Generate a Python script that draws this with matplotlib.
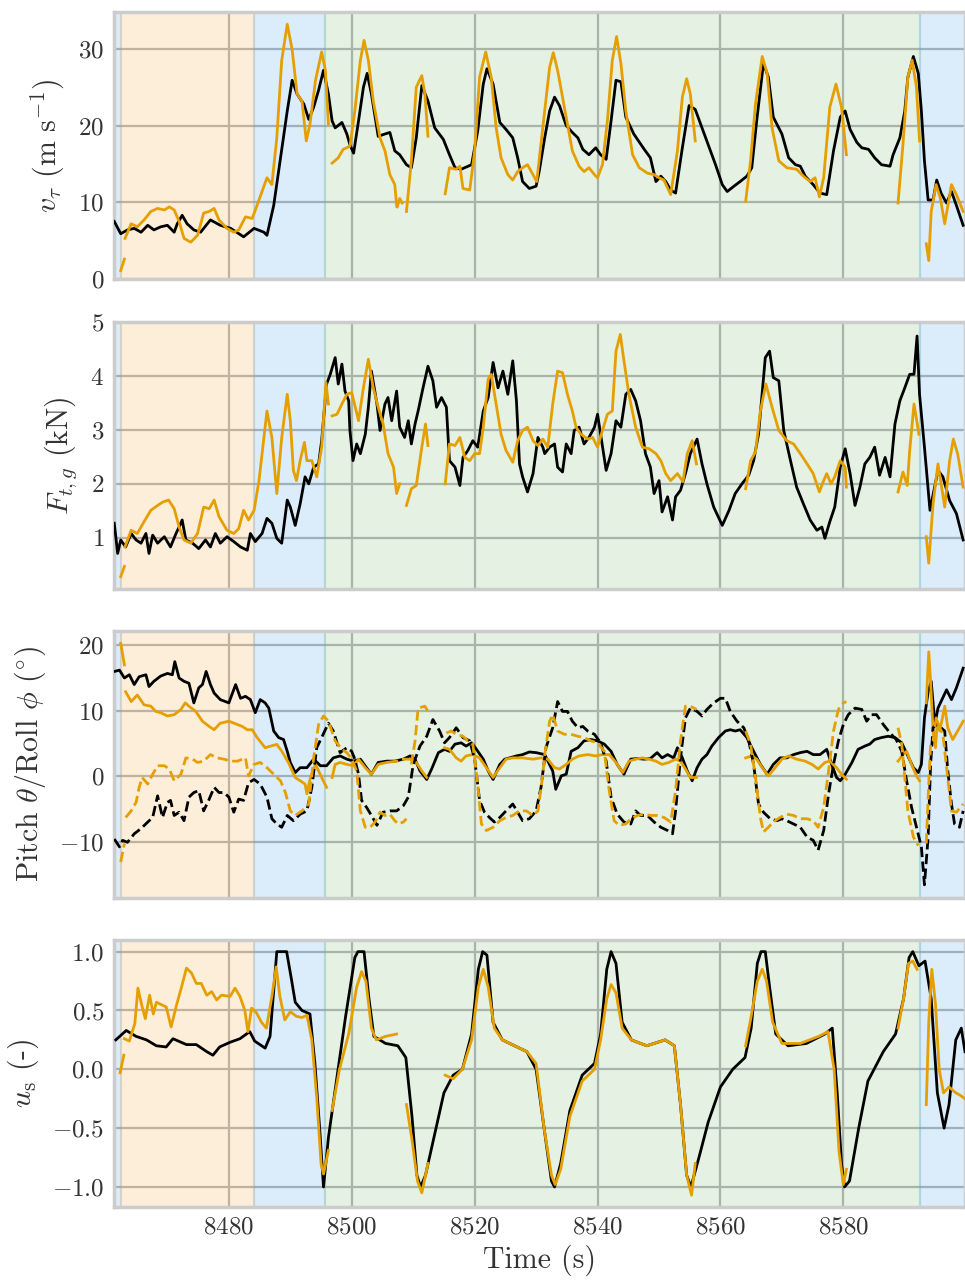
import numpy as np
import matplotlib
matplotlib.use("Agg")
import matplotlib.pyplot as plt

plt.rcParams['font.family'] = 'serif'
plt.rcParams['font.serif'] = ['cmr10', 'DejaVu Serif']
plt.rcParams['mathtext.fontset'] = 'cm'
plt.rcParams['axes.formatter.use_mathtext'] = True
plt.rcParams['axes.unicode_minus'] = True

N = None
# ---------------- data (time s, value) ----------------
# Panel 1: v_tau (m/s)
v_meas = [(8461.35, 7.5), (8462.4, 5.9), (8463.5, 6.4), (8464.6, 6.6), (8465.7, 6.1), (8466.8, 7.0), (8467.8, 6.4),
          (8468.9, 6.8), (8470.0, 7.0), (8471.1, 6.1), (8471.6, 7.2), (8472.4, 8.3), (8473.2, 7.2), (8474.3, 6.4),
          (8475.4, 6.1), (8477.0, 7.7), (8478.6, 7.0), (8480.3, 6.6), (8482.4, 5.5), (8484.1, 6.6), (8485.7, 6.1),
          (8486.2, 5.7), (8487.3, 9.6), (8488.4, 15.8), (8489.5, 21.9), (8490.3, 25.9), (8491.1, 24.1), (8492.2, 22.8),
          (8493.0, 20.8), (8493.8, 22.4), (8494.6, 24.6), (8495.4, 27.2), (8496.2, 24.1), (8496.8, 20.6), (8497.3, 19.7),
          (8498.4, 20.4), (8499.2, 18.9), (8499.7, 17.5), (8500.3, 16.4), (8501.1, 20.6), (8501.9, 25.0), (8502.5, 26.8),
          (8503.2, 24.1), (8504.3, 18.6), (8505.4, 18.9), (8506.2, 19.1), (8507.0, 16.7), (8507.8, 16.2), (8508.9, 14.9),
          (8509.7, 14.5), (8510.5, 18.4), (8511.4, 25.2), (8512.4, 23.2), (8513.5, 19.7), (8514.9, 18.2), (8515.9, 16.2),
          (8516.8, 14.5), (8517.8, 14.3), (8519.5, 14.9), (8520.5, 19.3), (8521.4, 25.4), (8522.0, 27.4), (8523.0, 25.4),
          (8524.1, 20.4), (8525.1, 19.5), (8526.2, 18.4), (8527.0, 15.8), (8527.8, 12.7), (8528.9, 11.8), (8530.0, 12.1),
          (8530.5, 14.0), (8531.4, 18.4), (8532.2, 21.9), (8533.0, 23.7), (8533.8, 22.6), (8534.9, 20.0), (8535.9, 19.1),
          (8536.8, 18.4), (8537.6, 16.9), (8538.6, 16.2), (8539.7, 17.1), (8540.5, 16.2), (8541.4, 15.6), (8542.2, 20.6),
          (8543.0, 25.9), (8543.8, 25.7), (8544.6, 21.1), (8545.9, 18.9), (8547.6, 16.9), (8548.6, 15.8), (8549.5, 12.7),
          (8550.3, 13.4), (8551.1, 12.7), (8551.9, 11.6), (8552.7, 11.2), (8553.8, 17.1), (8554.9, 22.6), (8555.9, 22.1),
          (8557.0, 19.7), (8558.1, 17.3), (8559.2, 14.9), (8560.3, 12.3), (8561.1, 11.4), (8562.2, 12.1), (8563.2, 12.7),
          (8564.3, 13.4), (8565.1, 14.5), (8565.9, 20.6), (8567.0, 28.1), (8567.8, 26.3), (8568.6, 21.1), (8570.0, 18.9),
          (8571.1, 15.8), (8572.2, 14.9), (8573.0, 14.7), (8573.8, 13.4), (8575.1, 12.3), (8576.2, 11.2), (8577.3, 11.0),
          (8578.4, 16.7), (8579.5, 21.1), (8580.3, 21.9), (8581.1, 19.5), (8582.2, 17.8), (8583.0, 17.1), (8584.1, 16.9),
          (8585.1, 15.8), (8586.2, 14.9), (8587.6, 14.7), (8588.1, 16.2), (8589.2, 18.4), (8590.0, 21.9), (8590.5, 26.3),
          (8591.4, 29.0), (8592.2, 26.8), (8592.7, 21.9), (8593.2, 15.4), (8593.8, 10.3), (8594.6, 10.3), (8595.2, 12.9),
          (8595.9, 11.2), (8596.8, 9.9), (8597.6, 11.4), (8598.4, 9.6), (8599.5, 7.0)]
v_model = [(8462.4, 1.1), (8463.0, 2.6), N,
           (8463.1, 5.3), (8464.1, 7.2), (8465.1, 6.8), (8466.2, 7.7), (8467.3, 8.8), (8468.4, 9.2), (8469.5, 9.0),
           (8470.3, 9.4), (8471.1, 9.0), (8471.9, 7.5), (8472.7, 5.3), (8473.8, 4.8), (8474.9, 5.7), (8475.9, 8.6),
           (8476.8, 8.8), (8477.6, 9.2), (8478.4, 7.7), (8479.7, 6.6), (8480.8, 6.1), (8481.6, 6.4), (8482.7, 8.1),
           (8483.8, 7.9), (8484.9, 10.3), (8486.2, 13.2), (8487.0, 12.3), (8487.8, 18.4), (8488.6, 28.5), (8489.5, 33.2),
           (8490.3, 29.9), (8491.1, 24.1), (8491.9, 23.2), (8492.6, 18.0), (8493.2, 20.2), (8494.1, 25.9), (8495.1, 29.6),
           (8495.7, 27.2), (8496.2, 20.2), N,
           (8496.8, 15.1), (8497.8, 15.8), (8498.6, 16.9), (8499.7, 17.3), (8500.5, 21.9), (8501.4, 28.5), (8502.0, 31.1),
           (8502.7, 28.5), (8503.5, 23.2), (8504.6, 18.4), (8505.4, 16.7), (8506.2, 13.6), (8507.0, 12.3), (8507.3, 9.6), N,
           (8507.4, 9.4), (8507.8, 10.5), (8508.2, 9.9), N,
           (8508.9, 8.8), (8509.7, 15.4), (8510.5, 25.0), (8511.4, 26.5), (8511.9, 24.1), (8512.4, 18.6), N,
           (8515.2, 11.1), (8515.9, 14.5), (8517.0, 14.3), (8517.6, 14.7), (8518.1, 11.8), (8519.2, 11.6), (8520.0, 16.7),
           (8520.8, 26.3), (8521.8, 29.6), (8522.7, 26.3), (8523.5, 19.7), (8524.3, 15.8), (8525.4, 13.6), (8526.2, 12.9),
           (8527.0, 14.0), (8527.8, 14.5), (8528.6, 14.9), (8529.5, 13.6), (8530.1, 12.7), (8531.4, 21.9), (8532.2, 27.6),
           (8532.8, 29.5), (8533.5, 27.2), (8534.3, 23.7), (8535.1, 20.2), (8535.9, 16.7), (8537.0, 14.7), (8537.8, 14.0),
           (8538.6, 14.5), (8539.5, 13.6), (8540.0, 13.2), (8540.8, 14.9), (8541.6, 20.6), (8542.4, 28.5), (8543.1, 31.6),
           (8543.8, 28.1), (8544.6, 21.9), (8545.7, 16.2), (8546.8, 14.5), (8548.1, 13.8), (8549.2, 13.6), (8550.0, 13.2),
           (8550.8, 12.9), (8551.9, 11.0), (8553.0, 16.7), (8553.8, 23.7), (8554.5, 26.1), (8555.1, 24.1), (8555.9, 18.0), N,
           (8564.1, 10.1), (8564.9, 15.4), (8565.7, 22.8), (8566.8, 29.0), (8567.6, 26.8), (8568.4, 19.7), (8569.5, 15.4),
           (8570.8, 14.5), (8572.4, 14.3), (8573.5, 13.4), (8574.6, 12.7), (8575.4, 13.2), (8576.1, 10.7), (8576.8, 13.2),
           (8577.8, 22.4), (8578.8, 25.4), (8579.7, 22.4), (8580.5, 16.2), N,
           (8588.9, 9.9), (8589.7, 17.5), (8590.5, 26.3), (8591.2, 28.5), (8591.9, 25.0), (8592.4, 18.0), N,
           (8593.5, 4.6), (8593.9, 2.4), (8594.3, 8.8), (8595.1, 12.3), (8595.8, 10.5), (8596.5, 7.2), (8597.6, 12.3),
           (8598.4, 11.0), (8599.5, 8.8)]

# Panel 2: F_t,g (kN)
F_meas = [(8461.35, 1.27), (8461.9, 0.71), (8462.4, 0.96), (8463.2, 0.83), (8464.1, 1.08), (8464.9, 0.96), (8465.7, 0.90),
          (8466.5, 1.08), (8467.0, 0.71), (8467.6, 1.05), (8468.4, 0.90), (8469.5, 1.02), (8470.5, 0.83), (8471.4, 1.08),
          (8471.9, 1.20), (8472.4, 1.33), (8473.0, 0.96), (8474.1, 0.90), (8475.1, 0.80), (8476.2, 0.96), (8477.0, 0.83),
          (8477.8, 1.08), (8478.6, 0.90), (8479.7, 1.02), (8480.8, 0.93), (8481.9, 0.83), (8483.0, 0.77), (8483.5, 1.08),
          (8484.3, 0.93), (8485.4, 1.08), (8486.2, 1.36), (8487.0, 1.27), (8487.8, 0.99), (8488.6, 0.90), (8489.5, 1.70),
          (8490.0, 1.57), (8490.8, 1.23), (8491.6, 1.63), (8492.4, 2.13), (8493.0, 2.00), (8493.8, 2.31), (8494.6, 2.37),
          (8495.1, 2.80), (8495.9, 3.85), (8496.5, 4.03), (8497.3, 4.34), (8497.8, 3.85), (8498.4, 4.22), (8498.9, 3.72),
          (8499.5, 3.54), (8499.7, 2.99), (8500.2, 2.43), (8500.8, 2.74), (8501.4, 2.56), (8502.2, 2.92), (8502.7, 3.42),
          (8503.2, 4.09), (8504.1, 3.48), (8504.6, 2.99), (8505.4, 3.48), (8505.9, 3.60), (8506.5, 3.17), (8507.3, 3.72),
          (8507.8, 3.05), (8508.6, 2.86), (8509.2, 3.17), (8509.7, 2.74), (8510.3, 3.11), (8510.8, 3.35), (8511.6, 3.78),
          (8512.4, 4.18), (8513.2, 3.91), (8513.8, 3.42), (8514.6, 3.60), (8515.4, 3.42), (8515.9, 2.43), (8516.8, 2.31),
          (8517.6, 1.97), (8518.1, 2.49), (8518.9, 2.62), (8519.7, 2.80), (8520.5, 2.68), (8521.4, 3.35), (8522.2, 3.60),
          (8523.0, 4.25), (8523.8, 3.78), (8524.6, 4.09), (8525.4, 3.66), (8526.2, 4.28), (8526.8, 3.54), (8527.3, 2.37),
          (8527.8, 2.13), (8528.6, 1.85), (8529.5, 2.19), (8530.3, 2.86), (8531.1, 2.68), (8531.4, 2.56), (8532.2, 2.68),
          (8533.0, 2.74), (8533.5, 2.31), (8534.3, 2.22), (8534.9, 2.74), (8535.7, 2.56), (8536.2, 2.99), (8537.0, 3.05),
          (8537.8, 2.74), (8538.6, 2.86), (8539.5, 3.05), (8540.0, 3.29), (8540.5, 2.92), (8541.4, 2.25), (8542.2, 2.56),
          (8543.0, 3.17), (8543.8, 3.05), (8544.6, 3.66), (8545.4, 3.75), (8546.2, 3.54), (8547.0, 3.17), (8547.8, 2.56),
          (8548.6, 2.31), (8549.2, 1.82), (8550.0, 2.06), (8550.5, 1.48), (8551.4, 1.76), (8552.2, 1.33), (8552.7, 1.76),
          (8553.5, 1.88), (8554.3, 2.19), (8555.1, 2.56), (8556.2, 2.83), (8557.0, 2.37), (8557.8, 2.00), (8558.9, 1.57),
          (8560.3, 1.23), (8561.4, 1.51), (8562.4, 1.82), (8563.5, 2.00), (8564.6, 2.16), (8565.4, 2.43), (8566.2, 2.92),
          (8567.3, 4.34), (8568.0, 4.46), (8568.6, 3.97), (8569.5, 3.91), (8570.3, 2.99), (8571.4, 2.43), (8572.4, 1.94),
          (8573.5, 1.63), (8574.6, 1.33), (8575.7, 1.14), (8576.5, 1.20), (8577.0, 0.99), (8577.8, 1.30), (8578.6, 1.57),
          (8579.5, 2.31), (8580.3, 2.65), (8581.1, 2.19), (8581.9, 1.60), (8582.7, 1.94), (8583.5, 2.37), (8584.3, 2.49),
          (8585.1, 2.68), (8585.9, 2.16), (8586.8, 2.49), (8587.6, 2.13), (8588.4, 3.11), (8589.2, 3.54), (8590.0, 3.78),
          (8590.8, 4.03), (8591.5, 4.03), (8592.0, 4.74), (8592.4, 3.66), (8593.2, 2.68), (8594.1, 1.51), (8595.4, 2.25),
          (8596.2, 2.13), (8597.3, 1.69), (8598.4, 1.45), (8599.5, 0.96)]
F_model = [(8462.4, 0.28), (8463.0, 0.47), N,
           (8463.1, 0.83), (8464.1, 1.14), (8465.1, 1.08), (8466.2, 1.30), (8467.3, 1.51), (8468.4, 1.60), (8469.2, 1.66),
           (8470.2, 1.70), (8471.1, 1.54), (8471.9, 1.20), (8472.7, 0.96), (8473.8, 0.90), (8474.9, 1.08), (8475.9, 1.57),
           (8476.8, 1.54), (8477.6, 1.70), (8478.4, 1.39), (8479.7, 1.14), (8480.8, 1.08), (8481.6, 1.17), (8482.4, 1.51),
           (8483.2, 1.33), (8484.1, 1.51), (8484.9, 2.06), (8485.4, 2.56), (8486.2, 3.35), (8487.0, 2.86), (8487.8, 1.82),
           (8488.6, 2.86), (8489.5, 3.66), (8490.0, 3.17), (8490.5, 2.25), (8491.0, 2.06), (8491.6, 2.43), (8492.3, 2.77),
           (8492.7, 2.43), (8493.5, 2.43), (8494.3, 2.13), (8495.1, 2.68), (8495.8, 3.88), (8496.2, 3.48), N,
           (8496.8, 3.26), (8497.6, 3.29), (8498.4, 3.48), (8499.2, 3.66), (8500.0, 3.69), (8501.1, 3.17), (8501.9, 3.78),
           (8502.7, 4.31), (8503.5, 3.78), (8504.3, 3.42), (8505.1, 3.11), (8505.9, 2.56), (8506.8, 2.31), (8507.3, 1.82),
           (8507.8, 2.00), N,
           (8508.9, 1.60), (8509.7, 1.91), (8510.5, 1.97), (8511.4, 2.68), (8512.0, 3.11), (8512.4, 2.71), N,
           (8515.2, 2.00), (8515.9, 2.74), (8516.8, 2.71), (8517.6, 2.86), (8518.4, 2.49), (8519.2, 2.43), (8520.0, 2.56),
           (8520.8, 2.56), (8521.4, 3.05), (8522.2, 3.94), (8522.7, 4.03), (8523.5, 3.48), (8524.3, 2.92), (8525.1, 2.62),
           (8526.2, 2.40), (8527.0, 2.80), (8527.8, 2.99), (8528.6, 3.05), (8529.5, 2.80), (8530.3, 2.71), (8531.1, 2.83),
           (8531.9, 2.68), (8532.7, 3.48), (8533.5, 4.09), (8534.3, 4.06), (8535.1, 3.66), (8535.9, 3.35), (8536.5, 3.05),
           (8537.3, 2.92), (8538.4, 2.83), (8539.2, 2.86), (8540.0, 2.68), (8540.8, 2.99), (8541.6, 3.29), (8542.4, 3.35),
           (8543.0, 4.46), (8543.7, 4.77), (8544.3, 4.28), (8545.1, 3.66), (8546.2, 3.05), (8547.3, 2.68), (8548.4, 2.65),
           (8549.5, 2.56), (8550.3, 2.43), (8551.1, 2.19), (8551.9, 2.06), (8553.0, 2.19), (8553.9, 2.04), (8554.6, 2.56),
           (8555.4, 2.80), (8556.1, 2.37), N,
           (8564.1, 1.91), (8564.9, 2.43), (8565.7, 2.59), (8566.5, 3.35), (8567.4, 3.85), (8568.4, 3.42), (8569.5, 2.99),
           (8570.8, 2.80), (8571.9, 2.74), (8573.0, 2.56), (8574.1, 2.37), (8575.1, 2.19), (8576.1, 1.85), (8576.8, 2.06),
           (8577.3, 2.19), (8578.0, 2.00), (8578.6, 2.13), (8579.5, 2.43), (8580.3, 2.31), (8580.5, 1.94), N,
           (8588.9, 1.85), (8589.7, 2.22), (8590.4, 1.97), (8590.8, 2.62), (8591.5, 3.48), (8592.3, 2.92), N,
           (8593.5, 1.02), (8593.9, 0.53), (8594.6, 1.63), (8595.4, 2.37), (8596.5, 1.57), (8597.3, 2.43), (8597.9, 2.83),
           (8598.6, 2.56), (8599.5, 1.94)]

# Panel 3: pitch (solid) and roll (dashed), degrees
pitch_meas = [(8461.35, 16.0), (8462.2, 16.2), (8463.0, 15.0), (8463.8, 15.5), (8464.6, 14.0), (8465.4, 15.2), (8466.5, 15.5),
              (8467.0, 13.7), (8467.8, 14.5), (8468.9, 15.3), (8470.0, 15.7), (8470.8, 15.5), (8471.2, 17.5), (8471.9, 15.0),
              (8472.7, 14.5), (8473.5, 14.2), (8474.3, 11.2), (8475.1, 13.5), (8475.7, 14.0), (8476.3, 16.0), (8477.0, 14.0),
              (8477.6, 12.7), (8478.6, 11.7), (8480.0, 11.2), (8481.1, 14.0), (8481.9, 11.9), (8482.7, 12.2), (8483.5, 11.7),
              (8484.3, 9.7), (8485.1, 11.7), (8485.9, 11.2), (8486.5, 10.4), (8487.3, 6.9), (8488.1, 5.9), (8488.9, 5.6),
              (8489.5, 3.8), (8490.0, 2.1), (8490.8, 0.56), (8491.6, 1.3), (8492.7, 1.3), (8493.8, 2.6), (8494.9, 1.6),
              (8495.9, 1.6), (8497.0, 2.8), (8498.1, 3.1), (8499.2, 2.6), (8500.3, 2.3), (8501.4, 2.6), (8502.4, 1.3),
              (8503.2, 0.3), (8504.3, 2.1), (8505.7, 2.3), (8507.0, 2.3), (8508.4, 2.6), (8509.5, 3.1), (8510.3, 2.6),
              (8511.1, 0.8), (8512.2, -0.5), (8513.0, 1.1), (8514.1, 3.6), (8515.1, 4.1), (8515.9, 3.8), (8516.8, 4.9),
              (8517.8, 5.1), (8518.6, 4.6), (8519.5, 5.1), (8520.3, 4.1), (8521.4, 2.6), (8522.2, 0.8), (8523.0, -0.5),
              (8524.1, 1.8), (8524.9, 2.6), (8525.7, 2.8), (8526.8, 3.1), (8527.8, 3.3), (8528.9, 3.7), (8530.0, 3.6),
              (8531.4, 3.3), (8532.7, 0.8), (8533.2, -2.0), (8534.1, 0.05), (8534.9, 0.3), (8535.7, 3.8), (8536.8, 4.35),
              (8537.8, 5.4), (8538.9, 5.6), (8540.0, 5.4), (8541.1, 4.9), (8542.2, 3.8), (8543.2, 1.8), (8544.3, 0.3),
              (8545.4, 2.6), (8546.5, 2.7), (8547.6, 2.6), (8548.6, 2.7), (8549.7, 3.6), (8550.5, 2.8), (8551.4, 3.3),
              (8552.4, 2.8), (8553.0, 4.35), (8553.8, 2.8), (8554.6, 0.8), (8555.4, -0.7), (8556.2, 1.3), (8557.0, 2.6),
              (8557.8, 3.3), (8558.6, 4.6), (8559.7, 5.9), (8560.8, 6.9), (8561.6, 7.1), (8562.4, 6.9), (8563.2, 7.1),
              (8564.3, 5.9), (8565.4, 3.8), (8566.5, 1.8), (8567.6, 0.3), (8568.6, 1.8), (8569.7, 2.8), (8570.8, 2.8),
              (8571.9, 3.3), (8573.0, 3.6), (8574.1, 3.8), (8575.1, 3.3), (8576.2, 3.3), (8577.3, 4.1), (8578.1, 1.8),
              (8578.9, -0.2), (8579.5, -0.7), (8580.3, 0.3), (8581.4, 2.1), (8582.4, 4.1), (8583.5, 4.6), (8584.3, 4.9),
              (8585.1, 5.6), (8586.2, 5.9), (8587.3, 6.1), (8588.4, 5.9), (8589.5, 5.1), (8590.5, 3.1), (8591.4, 1.3),
              (8592.2, 0.56), (8592.7, 1.8), (8593.2, 8.9), (8593.8, 12.9), (8594.3, 14.5), (8594.9, 7.9), (8595.4, 10.4),
              (8595.9, 11.4), (8596.8, 13.2), (8597.6, 11.7), (8598.4, 13.5), (8599.5, 16.5)]
pitch_model = [(8462.4, 20.3), (8463.0, 17.0), N,
               (8463.2, 12.9), (8464.1, 11.4), (8465.1, 12.4), (8466.2, 10.9), (8467.3, 10.7), (8468.1, 9.9), (8468.9, 9.7),
               (8470.0, 9.2), (8471.1, 9.4), (8472.2, 10.2), (8472.9, 11.2), (8473.5, 10.7), (8474.6, 9.9), (8475.7, 8.4),
               (8476.8, 7.6), (8477.6, 7.1), (8478.6, 8.1), (8480.0, 8.4), (8481.4, 7.9), (8482.2, 7.6), (8483.0, 7.1),
               (8483.8, 7.1), (8484.6, 5.9), (8485.9, 4.35), (8486.8, 4.6), (8487.8, 4.86), (8488.6, 3.84), (8489.7, 2.07),
               (8490.8, -0.2), (8491.6, -0.7), (8492.4, -1.2), (8492.7, -2.7), (8493.2, -0.46), (8494.1, 1.8), (8495.1, -0.2),
               (8495.9, -1.7), N,
               (8496.8, -0.2), (8497.3, 1.8), (8498.1, 2.1), (8499.2, 1.8), (8500.3, 1.6), (8501.1, 2.6), (8502.2, 1.3),
               (8503.2, 0.3), (8504.3, 1.8), (8505.7, 2.1), (8507.3, 2.3), N,
               (8508.4, 2.6), (8509.5, 2.6), (8510.5, 2.1), (8511.4, 0.8), (8512.2, -0.2), N,
               (8515.1, 4.35), (8515.9, 4.1), (8517.0, 2.8), (8517.8, 2.3), (8518.6, 3.1), (8519.7, 3.3), (8520.8, 2.8),
               (8521.9, 1.3), (8523.0, -0.2), (8524.1, 1.3), (8525.1, 2.6), (8526.2, 2.8), (8527.8, 2.8), (8529.5, 2.6),
               (8530.8, 2.8), (8531.9, 2.6), (8533.0, 1.3), (8533.8, 1.1), (8534.9, 1.8), (8535.9, 2.6), (8537.0, 3.1),
               (8538.4, 3.3), (8539.7, 3.1), (8540.8, 3.3), (8541.9, 3.3), (8543.0, 2.1), (8544.1, 0.56), (8545.1, 2.3),
               (8546.2, 2.6), (8547.3, 2.8), (8548.4, 2.6), (8549.5, 2.3), (8550.5, 1.8), (8551.6, 2.1), (8552.7, 2.6),
               (8553.5, 2.3), (8554.3, 1.1), (8555.1, -0.2), (8556.1, -0.2), N,
               (8564.1, 2.8), (8565.1, 3.1), (8565.9, 2.6), (8566.8, 1.3), (8567.8, 0.05), (8568.9, 1.3), (8570.0, 2.6),
               (8571.1, 3.1), (8572.4, 2.6), (8573.8, 2.3), (8574.9, 1.8), (8575.9, 1.1), (8577.0, 2.1), (8577.8, 2.3),
               (8578.9, 1.3), (8579.7, 0.3), (8580.5, -0.46), N,
               (8588.9, 2.3), (8589.7, 3.3), (8590.3, 3.8), (8591.1, 1.8), (8591.9, 0.05), (8592.4, -0.7), N,
               (8593.5, 11.2), (8593.9, 19.0), (8594.2, 14.5), (8594.6, 6.9), (8595.0, 4.35), (8595.3, 8.4), (8595.7, 6.9),
               (8596.5, 10.7), (8597.0, 7.4), (8597.8, 5.6), (8598.6, 6.9), (8599.5, 8.4)]
roll_meas = [(8461.35, -9.6), (8462.2, -10.8), (8462.7, -9.8), (8463.5, -10.1), (8464.6, -8.8), (8465.7, -8.0), (8466.8, -7.0),
             (8467.6, -6.3), (8468.4, -3.0), (8469.2, -6.3), (8470.0, -4.0), (8470.5, -3.7), (8471.1, -6.0), (8471.9, -5.5),
             (8472.7, -6.8), (8473.5, -3.2), (8474.3, -2.5), (8475.1, -2.2), (8475.9, -5.3), (8476.8, -3.5), (8477.6, -1.7),
             (8478.4, -2.5), (8479.2, -2.5), (8480.0, -3.2), (8480.8, -5.5), (8481.6, -3.5), (8482.4, -3.7), (8483.2, -1.0),
             (8484.1, -0.5), (8485.1, -1.2), (8486.2, -3.2), (8487.0, -6.5), (8487.8, -7.3), (8488.6, -7.8), (8489.5, -6.0),
             (8490.5, -6.8), (8491.6, -5.8), (8492.7, -5.3), (8493.5, -1.7), (8494.3, 4.35), (8495.1, 5.9), (8496.2, 8.1),
             (8497.0, 6.9), (8498.1, 3.6), (8499.2, 4.35), (8500.0, 3.8), (8500.5, 2.6), (8501.1, 0.3), (8501.6, -3.7),
             (8502.4, -4.75), (8503.2, -6.0), (8504.1, -7.5), (8505.1, -5.5), (8506.2, -5.3), (8507.3, -5.3), (8508.4, -4.5),
             (8509.2, -3.2), (8510.0, 1.8), (8511.1, 4.6), (8512.2, 6.1), (8513.2, 8.65), (8514.3, 6.9), (8515.1, 5.1),
             (8515.9, 5.9), (8517.0, 7.4), (8518.1, 5.9), (8519.2, 5.4), (8520.0, 2.6), (8520.8, -3.7), (8521.6, -5.5),
             (8522.4, -6.3), (8523.2, -7.0), (8524.1, -6.3), (8525.1, -5.3), (8526.2, -4.25), (8527.0, -5.5), (8527.8, -6.8),
             (8528.9, -6.5), (8530.0, -5.3), (8530.8, -1.7), (8531.6, 4.35), (8532.7, 7.4), (8533.5, 11.4), (8534.3, 9.9),
             (8535.1, 9.9), (8535.9, 8.4), (8536.8, 7.4), (8537.6, 7.6), (8538.4, 6.9), (8539.5, 6.4), (8540.5, 5.1),
             (8541.4, 2.3), (8542.2, -3.2), (8543.2, -5.8), (8544.3, -7.0), (8545.4, -7.3), (8546.2, -5.3), (8547.0, -6.0),
             (8548.1, -6.0), (8549.2, -7.0), (8550.3, -7.8), (8551.4, -8.3), (8552.2, -8.8), (8552.7, -5.3), (8553.5, 2.8),
             (8554.3, 8.9), (8555.1, 10.4), (8556.2, 9.9), (8557.0, 9.2), (8557.8, 10.2), (8558.9, 11.2), (8560.0, 11.9),
             (8560.8, 11.9), (8561.6, 9.9), (8562.7, 8.4), (8563.8, 7.4), (8564.6, 5.4), (8565.4, 1.8), (8566.2, -4.25),
             (8567.0, -5.5), (8568.1, -6.5), (8569.2, -6.8), (8570.0, -6.5), (8570.8, -6.8), (8571.9, -7.3), (8573.0, -7.8),
             (8574.1, -9.3), (8575.1, -9.8), (8575.9, -11.3), (8576.8, -8.3), (8577.6, -2.7), (8578.4, 1.8), (8579.2, 5.4),
             (8580.0, 7.9), (8580.8, 9.4), (8581.9, 10.4), (8583.0, 10.2), (8583.8, 8.4), (8584.6, 9.4), (8585.4, 9.4),
             (8586.5, 7.9), (8587.6, 6.6), (8588.6, 5.6), (8589.5, 3.8), (8590.3, -0.7), (8591.1, -4.75), (8591.9, -7.8),
             (8592.7, -10.8), (8593.2, -16.6), (8593.8, -9.3), (8594.2, 1.8), (8594.6, 7.4), (8595.1, 7.9), (8595.9, 7.4),
             (8596.5, 6.9), (8597.0, 0.8), (8597.6, -4.25), (8598.1, -7.3), (8598.9, -7.8), (8599.5, -5.3)]
roll_model = [(8462.4, -13.1), (8463.0, -10.3), N,
              (8463.2, -6.3), (8464.1, -5.3), (8464.9, -4.0), (8465.4, -1.7), (8465.9, -0.2), (8466.8, -1.2), (8467.6, 0.3),
              (8468.4, 1.6), (8469.5, 1.6), (8470.3, 1.1), (8471.1, -0.7), (8472.2, 0.3), (8473.0, 2.8), (8474.1, 2.6),
              (8474.9, 2.1), (8475.9, 2.3), (8477.0, 3.3), (8478.1, 2.8), (8479.2, 2.6), (8480.3, 2.3), (8481.4, 2.3),
              (8482.2, 2.6), (8482.7, 2.8), (8483.2, 0.05), (8484.1, 1.8), (8485.1, 2.1), (8486.2, 1.3), (8487.3, 0.3),
              (8488.4, -0.7), (8489.2, -2.5), (8490.0, -5.3), (8490.8, -6.0), (8491.9, -5.3), (8493.0, -4.25), (8493.8, 2.8),
              (8494.6, 7.9), (8495.4, 9.2), (8496.2, 8.4), (8497.3, 5.4), (8498.4, 4.1), (8499.2, 3.6), (8500.0, 2.6),
              (8500.8, 0.8), (8501.4, -5.3), (8502.2, -7.8), (8503.0, -7.8), (8503.8, -7.0), (8504.6, -5.5), (8505.4, -6.0),
              (8506.2, -5.8), (8507.0, -6.8), (8507.6, -7.3), (8508.4, -7.0), (8508.9, -6.5), N,
              (8509.7, 1.8), (8510.3, 5.4), (8510.8, 10.4), (8511.9, 10.7), (8512.4, 9.9), N,
              (8515.4, 6.6), (8516.2, 6.9), (8517.0, 6.4), (8518.1, 6.1), (8518.9, 5.4), (8519.7, 4.9), (8520.5, -1.2),
              (8521.1, -7.3), (8521.9, -8.3), (8523.0, -7.8), (8524.1, -6.8), (8525.1, -6.3), (8526.2, -6.0), (8527.3, -5.3),
              (8528.4, -5.3), (8529.5, -6.0), (8530.3, -5.3), (8531.1, 0.3), (8531.4, 3.3), (8532.2, 8.4), (8532.7, 9.4),
              (8533.5, 6.9), (8534.6, 6.4), (8535.7, 6.4), (8536.8, 6.1), (8537.8, 5.9), (8538.9, 5.4), (8540.0, 5.1),
              (8541.1, 3.8), (8541.9, -2.2), (8542.7, -6.8), (8543.5, -7.5), (8544.6, -7.3), (8545.4, -6.5), (8546.5, -6.0),
              (8547.6, -5.8), (8548.6, -6.0), (8549.7, -6.0), (8550.8, -6.3), (8551.9, -7.0), (8552.7, -2.2), (8553.5, 5.4),
              (8554.3, 10.7), (8555.1, 10.7), (8556.1, 10.2), N,
              (8564.1, 6.9), (8564.9, 4.9), (8565.7, -0.2), (8566.5, -6.3), (8567.0, -8.5), (8567.8, -7.8), (8568.6, -7.0),
              (8569.7, -6.3), (8570.8, -5.8), (8571.9, -6.0), (8573.0, -6.5), (8574.1, -6.5), (8575.1, -6.8), (8575.9, -7.8),
              (8576.8, -4.75), (8577.6, 0.8), (8578.4, 6.9), (8579.2, 10.2), (8580.0, 11.2), (8580.5, 11.4), N,
              (8588.9, 7.4), (8589.5, 4.9), (8590.0, -0.2), (8590.5, -5.3), (8591.4, -9.3), (8592.2, -10.6), N,
              (8593.5, -10.3), (8593.8, -3.2), (8594.2, 4.9), (8594.6, 5.4), (8595.1, 8.9), (8595.7, 7.4), (8596.2, 6.4),
              (8596.8, 1.3), (8597.6, -5.3), (8598.4, -5.5), (8599.5, -4.25)]

# Panel 4: u_s (-)
us_meas = [(8461.6, 0.25), (8463.3, 0.33), (8464.9, 0.28), (8466.6, 0.25), (8468.2, 0.20), (8469.8, 0.19), (8470.9, 0.26),
           (8473.1, 0.21), (8474.7, 0.21), (8476.4, 0.15), (8477.4, 0.12), (8478.5, 0.19), (8480.2, 0.23), (8481.8, 0.26),
           (8483.4, 0.32), (8484.2, 0.24), (8485.9, 0.18), (8486.7, 0.28), (8487.8, 1.0), (8489.4, 1.0), (8490.2, 0.76),
           (8490.8, 0.57), (8491.9, 0.50), (8493.2, 0.47), (8494.0, 0.05), (8494.8, -0.52), (8495.4, -1.0), (8496.2, -0.58),
           (8497.5, -0.1), (8499.0, 0.45), (8500.5, 0.95), (8501.0, 1.0), (8502.0, 1.0), (8502.8, 0.6), (8503.6, 0.28),
           (8505.5, 0.22), (8507.5, 0.2), (8508.8, 0.1), (8509.8, -0.4), (8510.6, -0.9), (8511.2, -1.0), (8512.0, -0.9),
           (8513.5, -0.55), (8515.0, -0.2), (8516.5, -0.05), (8518.0, 0.0), (8519.5, 0.3), (8520.6, 0.85), (8521.3, 1.0),
           (8522.0, 0.97), (8523.0, 0.4), (8524.5, 0.25), (8526.5, 0.2), (8528.5, 0.15), (8530.0, 0.0), (8531.3, -0.5),
           (8532.5, -0.95), (8533.0, -1.0), (8534.0, -0.8), (8535.5, -0.35), (8537.5, -0.05), (8539.5, 0.05), (8540.5, 0.3),
           (8541.5, 0.85), (8542.2, 1.0), (8543.0, 0.9), (8544.0, 0.4), (8545.5, 0.25), (8548.0, 0.2), (8551.0, 0.25),
           (8552.5, 0.2), (8553.5, -0.3), (8554.5, -0.9), (8555.2, -1.0), (8556.5, -0.75), (8558.0, -0.45), (8560.0, -0.15),
           (8562.0, 0.0), (8564.0, 0.1), (8565.0, 0.35), (8566.0, 0.9), (8566.6, 1.0), (8567.3, 1.0), (8568.0, 0.7),
           (8569.0, 0.3), (8571.0, 0.2), (8574.0, 0.22), (8577.0, 0.3), (8578.2, 0.35), (8579.0, -0.2), (8579.7, -0.8),
           (8580.2, -1.0), (8581.0, -0.95), (8582.5, -0.5), (8584.0, -0.1), (8586.5, 0.15), (8588.5, 0.3), (8589.8, 0.6),
           (8590.7, 0.95), (8591.3, 1.0), (8592.3, 0.88), (8593.3, 0.92), (8594.3, 0.6), (8595.3, -0.2), (8596.4, -0.5),
           (8597.2, -0.3), (8598.3, 0.25), (8599.2, 0.35), (8599.8, 0.15)]
us_model = [(8462.3, -0.03), (8462.9, 0.12), N,
            (8463.0, 0.26), (8463.8, 0.24), (8464.7, 0.39), (8465.2, 0.69), (8465.8, 0.55), (8466.4, 0.43), (8467.1, 0.63),
            (8467.7, 0.47), (8468.2, 0.57), (8469.0, 0.55), (8469.8, 0.53), (8470.6, 0.36), (8471.5, 0.55), (8472.3, 0.70),
            (8473.1, 0.86), (8473.9, 0.82), (8474.7, 0.73), (8475.5, 0.73), (8476.4, 0.63), (8477.2, 0.66), (8478.0, 0.59),
            (8478.8, 0.63), (8480.2, 0.62), (8481.0, 0.69), (8481.8, 0.62), (8482.6, 0.50), (8483.1, 0.32), (8483.7, 0.52),
            (8484.5, 0.48), (8485.3, 0.40), (8486.1, 0.35), (8487.0, 0.62), (8487.7, 0.87), (8488.3, 0.62), (8489.1, 0.42),
            (8490.0, 0.49), (8491.0, 0.45), (8491.9, 0.44), (8492.7, 0.46), (8493.5, 0.25), (8494.3, -0.24), (8495.0, -0.80),
            (8495.4, -0.89), (8496.2, -0.69), N,
            (8496.8, -0.35), (8498.0, 0.0), (8499.5, 0.3), (8500.8, 0.7), (8501.6, 0.83), (8502.3, 0.75), (8503.2, 0.35),
            (8504.0, 0.25), (8505.5, 0.28), (8507.3, 0.3), N,
            (8508.9, -0.3), (8509.8, -0.6), (8510.7, -0.95), (8511.4, -1.05), (8512.4, -0.8), N,
            (8515.2, -0.05), (8516.5, -0.08), (8518.0, 0.0), (8519.5, 0.25), (8520.6, 0.7), (8521.4, 0.85), (8522.2, 0.7),
            (8523.2, 0.35), (8524.5, 0.25), (8526.5, 0.2), (8528.5, 0.15), (8530.0, 0.05), (8531.3, -0.5), (8532.5, -0.9),
            (8533.1, -0.98), (8534.0, -0.85), (8535.5, -0.4), (8537.5, -0.1), (8539.5, 0.0), (8540.5, 0.25), (8541.5, 0.6),
            (8542.2, 0.72), (8543.0, 0.65), (8544.0, 0.35), (8545.5, 0.25), (8548.0, 0.2), (8551.0, 0.25), (8552.5, 0.2),
            (8553.5, -0.3), (8554.5, -0.9), (8555.3, -1.07), (8555.9, -0.8), N,
            (8564.1, 0.2), (8565.0, 0.45), (8566.0, 0.75), (8566.8, 0.85), (8567.5, 0.75), (8568.5, 0.4), (8570.0, 0.22),
            (8573.0, 0.22), (8576.0, 0.28), (8577.5, 0.32), (8578.5, 0.0), (8579.3, -0.7), (8580.0, -0.98), (8580.5, -0.85), N,
            (8588.9, 0.35), (8589.8, 0.6), (8590.6, 0.9), (8591.3, 0.92), (8592.0, 0.85), N,
            (8593.5, -0.3), (8593.9, 0.4), (8594.4, 0.85), (8595.0, 0.55), (8595.6, 0.0), (8596.3, -0.2), (8597.2, -0.15),
            (8598.3, -0.2), (8599.0, -0.22), (8599.8, -0.25)]

# Flight phases (start, end, colour)
phase_edges = [8461.3, 8462.4, 8484.1, 8495.7, 8592.4, 8600.0]
phase_colors = ['#4BA0E6', '#F5AA46', '#4BA0E6', '#78B973', '#4BA0E6']

x_ticks = [8480, 8500, 8520, 8540, 8560, 8580]
ylabels = [r'$v_\tau$ (m s$^{-1}$)', r'$F_{t,g}$ (kN)', r'Pitch $\theta$/Roll $\phi$ ($^{\circ}$)', r'$u_\mathrm{s}$ (-)']
yticks = [[0, 10, 20, 30], [1, 2, 3, 4, 5], [-10, 0, 10, 20], [-1.0, -0.5, 0.0, 0.5, 1.0]]
ylims = [(0, 34.8), (0.05, 5.0), (-18.6, 22.2), (-1.17, 1.10)]


def xy(pairs):
    t = np.array([np.nan if p is None else p[0] for p in pairs], dtype=float)
    y = np.array([np.nan if p is None else p[1] for p in pairs], dtype=float)
    return t, y


BLACK = 'black'
ORANGE = '#E69F00'
TXT = '#333333'

fig = plt.figure(figsize=(9.65, 12.87), dpi=100)
bottoms = [0.7832, 0.5423, 0.3023, 0.0622]
h = 0.2075
axes = [fig.add_axes([0.1181, b, 0.8819, h]) for b in bottoms]

series = [
    [(v_meas, BLACK, '-'), (v_model, ORANGE, '-')],
    [(F_meas, BLACK, '-'), (F_model, ORANGE, '-')],
    [(pitch_meas, BLACK, '-'), (pitch_model, ORANGE, '-'), (roll_meas, BLACK, '--'), (roll_model, ORANGE, '--')],
    [(us_meas, BLACK, '-'), (us_model, ORANGE, '-')],
]

for i, ax in enumerate(axes):
    ax.set_axisbelow(True)
    ax.grid(True, color='#b4b4b4', linewidth=1.6, zorder=0)
    for j in range(len(phase_colors)):
        ax.axvspan(phase_edges[j], phase_edges[j + 1], color=phase_colors[j], alpha=0.2, zorder=0.6, linewidth=1.5)
    for data, col, ls in series[i]:
        t, y = xy(data)
        ax.plot(t, y, color=col, linestyle=ls, linewidth=2.0, zorder=3)
    ax.set_xlim(8461.3, 8599.8)
    ax.set_ylim(*ylims[i])
    ax.set_yticks(yticks[i])
    ax.set_xticks(x_ticks)
    ax.tick_params(length=0, labelsize=18, pad=7, colors=TXT)
    for s in ax.spines.values():
        s.set_color('#cccccc')
        s.set_linewidth(2.5)
    ax.set_ylabel(ylabels[i], fontsize=21.5, color=TXT, labelpad=8)
    if i < 3:
        ax.tick_params(labelbottom=False)

axes[3].yaxis.set_major_formatter(matplotlib.ticker.FormatStrFormatter('$%.1f$'))
axes[3].set_xlabel('Time (s)', fontsize=21.5, color=TXT, labelpad=4)

fig.savefig('out.png', dpi=100)
